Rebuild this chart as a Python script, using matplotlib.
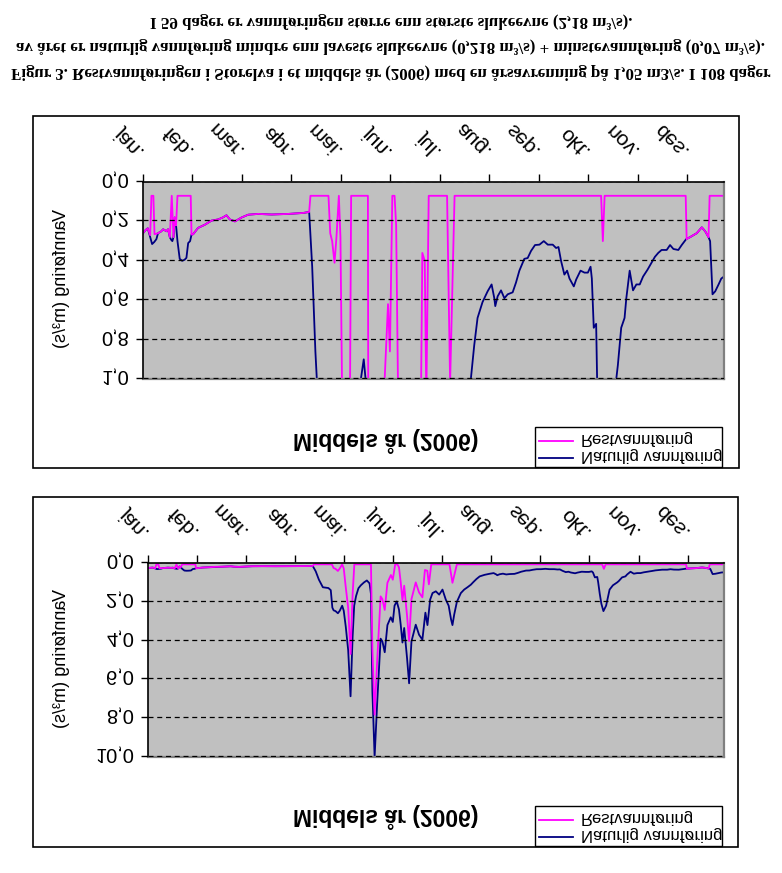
import numpy as np
import matplotlib
matplotlib.use('Agg')
import matplotlib.pyplot as plt
from matplotlib.patches import Rectangle
from matplotlib.lines import Line2D

plt.rcParams['font.family'] = ['Liberation Sans', 'DejaVu Sans']

# ---- data (day of year, m3/s) ----
months = ['jan.', 'feb.', 'mar.', 'apr.', 'mai.', 'jun.', 'jul.', 'aug.', 'sep.', 'okt.', 'nov.', 'des.']
month_days = [0, 31, 62, 93, 124, 155, 186, 217, 248, 279, 310, 341]

nat_days = [0, 1.5, 3, 4.5, 5.7, 7, 8.4, 9.4, 11.5, 12.6, 14.7, 15.7, 16.8, 17.8, 18.4, 19.1, 19.9, 20.7,
            21.6, 23.0, 24.5, 26.0, 27.2, 28.3, 29.5, 30.4, 31.4, 34.5, 38.7, 42.9, 47.1, 50, 52.3, 54.4,
            57.6, 61.8, 65.9, 72.2, 80.6, 91.1, 100.5, 104.1, 106.0, 108.0, 110.5, 114.0, 115.5, 116.5,
            117.3, 118.5, 120.0, 121.2, 122.7, 123.7, 125.0, 126.5, 128.0, 129.3, 130.3, 131.5, 133.0,
            134.5, 136.5, 138.3, 140.0, 140.9, 141.8, 143.2, 144.9, 147.0, 148.1, 149.6, 151.3, 153.4,
            154.7, 155.8, 157.2, 158.6, 159.7, 160.8, 161.9, 163.7, 165.0, 166.5, 168.2, 169.2, 171.3,
            173.4, 175.3, 176.6, 178.3, 179.8, 181.9, 184.0, 186.1, 188.2, 190.0, 191.5, 192.4, 193.5,
            195.2, 197.7, 199.8, 201.9, 204.0, 205.4, 207.5, 209.6, 212.7, 215.9, 218.4, 220.1, 220.7,
            222.2, 224.3, 226.4, 228.5, 231.6, 233.7, 235.8, 238.9, 241.0, 243.1, 245.6, 248.4, 251.1,
            253.6, 256.7, 258.8, 260.3, 261.9, 264.0, 265.7, 267.2, 269.9, 271.4, 274.1, 276.6, 278.7,
            280.4, 281.2, 282.4, 283.9, 284.5, 285.5, 286.5, 287.8, 289.5, 291.7, 293.8, 296.5, 297.5,
            299.6, 301.7, 302.8, 304.9, 307.0, 309.1, 311.2, 313.3, 316.1, 318.6, 320.7, 322.8, 324.9,
            328.1, 330.2, 332.3, 335.4, 337.5, 340.3, 342.7, 344.8, 346.9, 350.1, 352.2, 354.3, 355.3,
            356.8, 358.5, 360.6, 362.3, 364.0]
nat_vals = [0.26, 0.245, 0.235, 0.28, 0.315, 0.305, 0.29, 0.26, 0.25, 0.24, 0.25, 0.24, 0.28, 0.295, 0.30,
            0.28, 0.18, 0.22, 0.30, 0.39, 0.40, 0.395, 0.385, 0.31, 0.30, 0.267, 0.265, 0.233, 0.217, 0.196,
            0.19, 0.18, 0.169, 0.19, 0.20, 0.18, 0.166, 0.162, 0.165, 0.162, 0.157, 0.152, 0.43, 0.86, 1.25,
            1.29, 1.4, 2.3, 2.44, 2.48, 2.59, 2.46, 2.2, 2.46, 3.3, 4.5, 6.87, 3.8, 2.2, 1.7, 1.3, 1.15, 1.0,
            0.90, 1.05, 1.6, 6.6, 10.0, 7.1, 3.9, 4.04, 4.6, 3.2, 2.8, 3.04, 2.2, 1.98, 2.4, 3.18, 4.1, 3.35,
            4.9, 6.2, 4.04, 3.5, 3.18, 3.7, 3.95, 2.56, 3.2, 1.89, 1.55, 1.46, 1.63, 1.37, 1.89, 2.2, 2.9,
            3.2, 2.66, 2.0, 1.55, 1.37, 1.25, 1.12, 1.0, 0.83, 0.69, 0.61, 0.555, 0.52, 0.59, 0.63, 0.58,
            0.55, 0.59, 0.57, 0.56, 0.51, 0.45, 0.39, 0.386, 0.35, 0.32, 0.318, 0.30, 0.318, 0.318, 0.335,
            0.33, 0.40, 0.47, 0.45, 0.49, 0.53, 0.495, 0.45, 0.46, 0.46, 0.43, 0.49, 0.74, 0.72, 1.0, 1.6,
            2.1, 2.48, 2.2, 1.37, 1.15, 1.0, 0.93, 0.74, 0.69, 0.59, 0.45, 0.55, 0.52, 0.52, 0.48, 0.445,
            0.41, 0.38, 0.36, 0.345, 0.345, 0.32, 0.34, 0.345, 0.32, 0.29, 0.28, 0.27, 0.26, 0.23, 0.25,
            0.28, 0.30, 0.57, 0.555, 0.52, 0.49, 0.48]

rest_days = [0, 1.5, 3, 4.5, 5.3, 6.5, 7.2, 9.4, 11.5, 12.6, 14.7, 15.7, 16.8, 18.0, 19.1, 19.9, 20.7, 21.6,
             29.9, 30.4, 31.4, 34.5, 38.7, 42.9, 47.1, 50, 52.3, 54.4, 57.6, 61.8, 65.9, 72.2, 80.6, 91.1,
             100.5, 104.1, 104.9, 116.2, 117.3, 118.5, 120.0, 121.2, 122.7, 123.7, 124.8, 126.5, 128.0,
             129.3, 130.4, 140.9, 141.8, 143.2, 144.9, 147.0, 148.1, 149.6, 151.3, 153.5, 154.7, 156.2,
             157.6, 158.6, 159.7, 160.8, 161.9, 163.7, 165.0, 166.5, 168.2, 169.2, 171.3, 173.4, 175.0,
             176.5, 177.5, 179.0, 190.5, 192.4, 195.2, 287.0, 288.1, 289.2, 340.0, 340.6, 342.7, 344.8,
             346.9, 350.1, 352.2, 354.3, 355.0, 364.0]
rest_vals = [0.26, 0.245, 0.235, 0.27, 0.07, 0.07, 0.265, 0.26, 0.25, 0.24, 0.25, 0.24, 0.28, 0.07, 0.28,
             0.18, 0.22, 0.07, 0.07, 0.267, 0.265, 0.233, 0.217, 0.196, 0.19, 0.18, 0.169, 0.19, 0.20, 0.18,
             0.166, 0.162, 0.165, 0.162, 0.157, 0.152, 0.07, 0.07, 0.26, 0.30, 0.41, 0.28, 0.07, 0.28, 1.12,
             2.32, 4.69, 1.62, 0.07, 0.07, 4.42, 7.82, 4.92, 1.72, 1.86, 2.42, 1.02, 0.62, 0.86, 0.07, 0.07,
             0.22, 1.0, 1.92, 1.17, 2.72, 4.02, 1.86, 1.32, 1.0, 1.52, 1.77, 0.36, 0.40, 1.1, 0.07, 0.07,
             1.02, 0.07, 0.07, 0.30, 0.07, 0.07, 0.29, 0.28, 0.27, 0.26, 0.23, 0.25, 0.28, 0.07, 0.07]

caption = ["Figur 3. Restvannføringen i Storelva i et middels år (2006) med en årsavrenning på 1,05 m3/s. I 108 dager",
           "av året er naturlig vannføring mindre enn laveste slukeevne (0,218 m\u00b3/s) + minstevannføring (0,07 m\u00b3/s).",
           "I 59 dager er vannføringen større enn største slukeevne (2,18 m\u00b3/s)."]

NAVY = '#000080'
PINK = '#FF00FF'
W, H = 782, 873

# the page is shown mirrored top-to-bottom, so build it the normal way and flip the pixels at the end.
# with that flip, an image row y (from the top) becomes figure fraction y/H from the bottom.
fig = plt.figure(figsize=(W / 100, H / 100), dpi=100)
fx = lambda px: px / W
fy = lambda px: px / H


def panel(box, plot, ymax, ystep, title_y):
    bx0, by0, bx1, by1 = box
    fig.add_artist(Rectangle((fx(bx0), fy(by0)), fx(bx1 - bx0), fy(by1 - by0),
                             transform=fig.transFigure, fill=False, ec='black', lw=1.2))
    px0, py0, px1, py1 = plot
    ax = fig.add_axes([fx(px0), fy(py0), fx(px1 - px0), fy(py1 - py0)])
    ax.set_facecolor('#C0C0C0')
    ax.plot(nat_days, nat_vals, color=NAVY, lw=1.3)
    ax.plot(rest_days, rest_vals, color=PINK, lw=1.3)
    ax.set_xlim(0, 364)
    ax.set_ylim(0, ymax)
    ax.set_xticks(month_days)
    ax.set_xticklabels(months, rotation=45, ha='right', va='center', rotation_mode='anchor', fontsize=15)
    yt = np.arange(0, ymax + ystep / 2, ystep)
    ax.set_yticks(yt)
    ax.set_yticklabels([('%.1f' % v).replace('.', ',') for v in yt], fontsize=14.5)
    ax.tick_params(direction='out', length=5, width=1, pad=5)
    ax.tick_params(axis='x', pad=14)
    ax.yaxis.grid(True, color='black', lw=0.9, linestyle=(0, (4, 3)))
    ax.set_axisbelow(False)
    for s in ['top', 'right']:
        ax.spines[s].set_color('#808080')
        ax.spines[s].set_linewidth(1.6)
    for s in ['left', 'bottom']:
        ax.spines[s].set_linewidth(1.2)
    ax.set_ylabel('Vannføring (m\u00b3/s)', fontsize=13)
    ax.yaxis.set_label_coords(fx(70 - px0) / fx(px1 - px0), 0.5)
    fig.text(fx(386), fy(title_y), 'Middels år (2006)', ha='center', va='center',
             fontsize=16.5, fontweight='bold')
    handles = [Line2D([], [], color=NAVY, lw=1.3), Line2D([], [], color=PINK, lw=1.3)]
    leg = ax.legend(handles, ['Naturlig vannføring', 'Restvannføring'], loc='upper left',
                    bbox_to_anchor=(fx(535), fy(by0), fx(722 - 535), fy(by1 - by0)),
                    bbox_transform=fig.transFigure, mode='expand', borderaxespad=0,
                    fancybox=False, framealpha=1, edgecolor='black', fontsize=12,
                    handlelength=2.0, handletextpad=0.5, borderpad=0.25, labelspacing=0.1)
    leg.get_frame().set_linewidth(1.0)
    leg.set_clip_on(False)
    return ax


# lower block in the picture: 0-10 scale
panel((33, 497, 738, 847), (148, 563, 724, 757), 10.0, 2.0, 818)
# upper block in the picture: 0-1 scale (values above 1 run off the axes)
panel((33, 116, 739, 468), (143, 182, 724, 379), 1.0, 0.2, 442)

for y, line in zip([73, 47, 22], caption):
    fig.text(0.5, fy(y), line, ha='center', va='center', fontsize=12.2, fontweight='bold',
             family=['Liberation Serif', 'DejaVu Serif'])

fig.canvas.draw()
img = np.asarray(fig.canvas.buffer_rgba())
plt.imsave('out.png', img[::-1])
